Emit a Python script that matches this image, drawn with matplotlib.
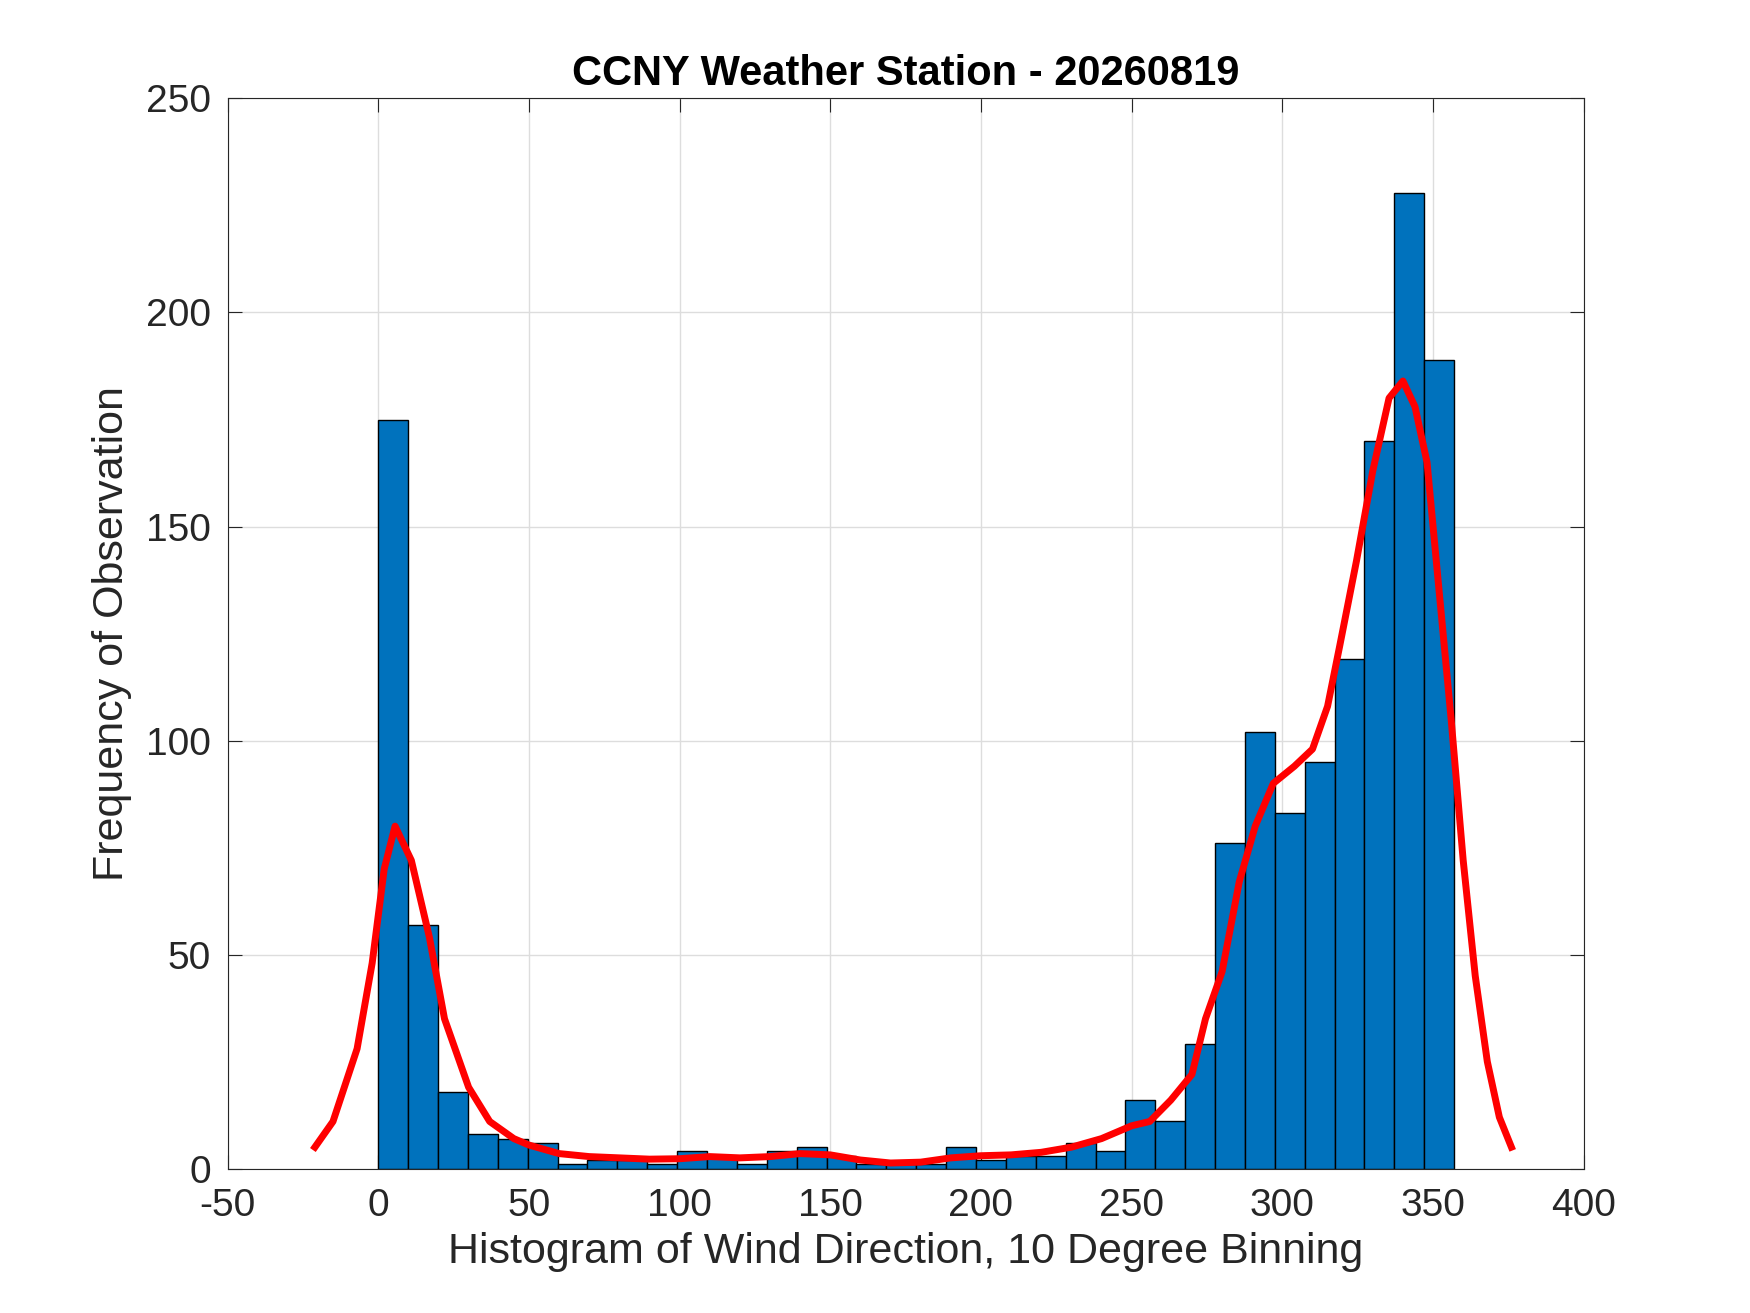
import numpy as np
import matplotlib
matplotlib.use("Agg")
import matplotlib.pyplot as plt

counts = [175,57,18,8,7,6,1,2,2,1,4,3,1,4,5,3,1,1,1,5,2,3,3,6,4,16,11,29,76,102,83,95,119,170,228,189]
bin_lo, bin_hi = 0, 357
curve_x = [-21,-15,-7,-2,2,5.6,11,17,22,30,37,45,50,55,60,70,80,90,100,110,120,130,140,150,160,170,180,190,200,210,220,230,240,250,256,263,270,274.5,280,285.7,291,297,304,310,315,319,324.6,330,335.4,340,344,348,352,356,360,364,368,372,376]
curve_y = [5,11,28,48,70,80,72,54,35,19,11,7,5.5,4.5,3.5,2.8,2.5,2.2,2.3,2.8,2.5,2.8,3.5,3.2,2,1.3,1.5,2.5,3,3.2,3.8,5,7,10,11,16,22,35,46,67,80,90,94,98,108,122,142,163,180,184,178,165,135,105,72,45,25,12,5]

plt.rcParams['font.family'] = ['Arial', 'Liberation Sans', 'DejaVu Sans']
plt.rcParams['axes.unicode_minus'] = False
fig = plt.figure(figsize=(17.5, 13.13), dpi=100)
ax = fig.add_axes([0.13, 0.11, 0.775, 0.815])
edges = np.linspace(bin_lo, bin_hi, len(counts) + 1)
ax.bar(edges[:-1], counts, width=np.diff(edges), align='edge', color='#0072BD', edgecolor='black', linewidth=1, zorder=2)
ax.plot(curve_x, curve_y, color='red', linewidth=5, zorder=3, solid_joinstyle='round')
ax.set_xlim(-50, 400)
ax.set_ylim(0, 250)
ax.set_xticks(range(-50, 401, 50))
ax.set_yticks(range(0, 251, 50))
ax.grid(True, color='#dddddd', linewidth=1, zorder=0)
ax.set_axisbelow(True)
ax.tick_params(labelsize=28, direction='in', length=10, top=True, right=True, colors='#262626')
ax.tick_params(axis='x', pad=14)
ax.tick_params(axis='y', pad=12)
for s in ax.spines.values():
    s.set_color('#262626')
ax.set_xlabel('Histogram of Wind Direction, 10 Degree Binning', fontsize=31, color='#262626', labelpad=6)
ax.set_ylabel('Frequency of Observation', fontsize=31, color='#262626', labelpad=10)
ax.set_title('CCNY Weather Station - 20260819', fontsize=30, fontweight='bold', pad=10)
fig.savefig('out.png')
